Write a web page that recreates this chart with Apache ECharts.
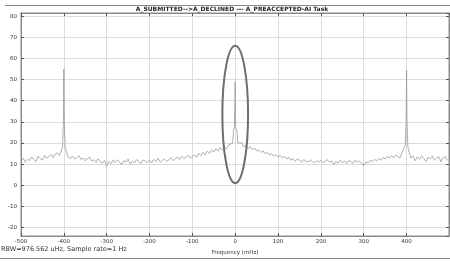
<!DOCTYPE html>
<html>
<head>
<meta charset="utf-8">
<script src="https://cdn.jsdelivr.net/npm/echarts@6/dist/echarts.min.js"></script>
<style>
  html, body { margin: 0; padding: 0; background: #fff; }
  #main { width: 450px; height: 261px; }
</style>
</head>
<body>
<div id="main"></div>
<script>
// spectrum (dBm), one value every 5 mHz from -500
const freqStart = -500;
const freqStep = 5;
const noiseLevels = [
  11.5, 12.8, 10.9, 12.3, 11.7, 13.4, 12.1, 11.2, 13.8, 12.6, 11.9, 14.2, 12.8, 13.5, 14.6, 13.1, 14.9, 15.3, 14.1, 16.8,
  24.0, 14.8, 13.2, 12.6, 13.9, 12.4, 13.1, 14.0, 12.2, 12.9, 11.6, 12.7, 13.3, 11.4, 12.1, 10.8, 12.5, 11.2, 10.4, 11.8,
  8.9, 11.3, 10.2, 11.9, 10.7, 12.1, 11.0, 9.6, 11.7, 10.9, 12.4, 9.8, 11.5, 10.6, 12.2, 11.1, 10.3, 12.0, 11.4, 10.8,
  11.9, 10.5, 12.3, 11.2, 12.8, 10.9, 11.7, 12.5, 11.3, 12.0, 13.1, 11.6, 12.4, 13.4, 12.1, 13.8, 12.7, 13.3, 14.2, 12.9,
  13.6, 14.5, 13.2, 15.1, 14.0, 15.6, 14.4, 16.2, 15.0, 16.8, 15.7, 17.3, 16.1, 17.9, 16.6, 18.4, 17.2, 19.1, 18.0, 19.6,
  20.5, 19.3, 18.6, 20.1, 18.2, 19.0, 17.4, 18.3, 16.9, 17.6, 16.2, 16.8, 15.5, 16.3, 14.9, 15.6, 14.3, 14.9, 13.8, 14.5,
  13.4, 14.1, 12.9, 13.6, 12.4, 13.2, 11.8, 12.7, 11.3, 12.5, 11.9, 10.8, 12.2, 11.4, 10.9, 12.0, 11.2, 10.6, 11.7, 11.0,
  11.8, 10.7, 11.4, 12.1, 10.9, 11.6, 9.8, 11.3, 10.5, 11.9, 10.8, 11.5, 10.2, 11.7, 11.1, 10.4, 11.9, 10.9, 11.4, 10.6,
  9.2, 11.0, 10.6, 11.8, 11.2, 12.3, 11.5, 12.6, 11.9, 13.1, 12.4, 13.6, 12.8, 14.1, 13.0, 14.3, 13.5, 12.9, 15.8, 19.5,
  24.0, 14.6, 12.8, 13.9, 11.6, 13.4, 12.2, 14.0, 12.7, 11.3, 13.2, 12.5, 13.8, 11.9, 12.8, 13.6, 11.2, 12.9, 13.7, 11.8
];
// narrow tones on top of the floor: [freq mHz, dBm]
const tones = [
  [-403, 18], [-401, 30], [-400, 55], [-399, 30], [-397, 18],
  [-6, 20], [-4, 26], [-2, 27.5], [-1, 27], [0, 49], [1, 27], [2, 27.5], [4, 26], [6, 20],
  [397, 19], [399, 30], [400, 54.5], [401, 30], [403, 18]
];
// marked region (ellipse): centre and half sizes in data units
const markCenter = [0, 33.5];
const markHalf = [30, 32.5];

let spectrum = noiseLevels.map((v, i) => [freqStart + i * freqStep, v]);
spectrum = spectrum.filter(p => !tones.some(t => Math.abs(t[0] - p[0]) <= 6));
spectrum = spectrum.concat(tones).sort((a, b) => a[0] - b[0]);

const chart = echarts.init(document.getElementById('main'));

const font = 'DejaVu Sans';
const axisCommon = {
  type: 'value',
  axisLine: { show: true, onZero: false, lineStyle: { color: '#8a8a8a', width: 1 } },
  axisTick: { show: true, inside: true, length: 3, lineStyle: { color: '#555' } },
  axisLabel: { fontSize: 5.5, color: '#333', fontFamily: font }
};

const frame = [
  { type: 'line', shape: { x1: 5, y1: 5.5, x2: 450, y2: 5.5 }, style: { stroke: '#8a8a8a', lineWidth: 1 } },
  { type: 'line', shape: { x1: 0, y1: 258.5, x2: 450, y2: 258.5 }, style: { stroke: '#8a8a8a', lineWidth: 1 } },
  {
    type: 'text', left: 1, top: 246,
    style: { text: 'RBW=976.562 uHz, Sample rate=1 Hz', fontSize: 6.5, fill: '#333', fontFamily: font }
  }
];

chart.setOption({
  animation: false,
  backgroundColor: '#fff',
  title: {
    text: 'A_SUBMITTED-->A_DECLINED --- A_PREACCEPTED-AI Task',
    left: 232, top: 6, textAlign: 'center', padding: 0,
    textStyle: { fontSize: 6, fontWeight: 'bold', color: '#222', fontFamily: font }
  },
  grid: {
    left: 21, right: 1, top: 13, bottom: 25, show: true,
    borderColor: '#8a8a8a', borderWidth: 1, outerBoundsMode: 'none', containLabel: false
  },
  xAxis: [Object.assign({}, axisCommon, {
    min: -500, max: 499, interval: 100, position: 'bottom',
    axisLabel: Object.assign({}, axisCommon.axisLabel, { margin: 3, showMaxLabel: false }),
    splitLine: { show: true, lineStyle: { color: '#dcdcdc', width: 1 } },
    name: 'Frequency (mHz)', nameLocation: 'middle', nameGap: 9,
    nameTextStyle: { fontSize: 5.5, color: '#333', fontFamily: font }
  }), Object.assign({}, axisCommon, {
    min: -500, max: 499, interval: 100, position: 'top',
    axisLabel: { show: false }, splitLine: { show: false }
  })],
  yAxis: [Object.assign({}, axisCommon, {
    min: -24, max: 81.5, minInterval: 10, maxInterval: 10, position: 'left',
    axisLabel: Object.assign({}, axisCommon.axisLabel, { margin: 4, showMinLabel: false, showMaxLabel: false }),
    splitLine: { show: true, lineStyle: { color: '#dcdcdc', width: 1 } },
    name: 'dBm', nameLocation: 'middle', nameGap: 11, nameRotate: 90,
    nameTextStyle: { fontSize: 5.5, color: '#333', fontFamily: font }
  }), Object.assign({}, axisCommon, {
    min: -24, max: 81.5, minInterval: 10, maxInterval: 10, position: 'right',
    axisLabel: { show: false }, splitLine: { show: false }
  })],
  series: [{
    type: 'line',
    data: spectrum,
    showSymbol: false,
    lineStyle: { color: '#9a9a9a', width: 0.8 },
    z: 3
  }],
  graphic: frame
});

// place the ellipse with the chart's own scales
const c = chart.convertToPixel({ gridIndex: 0 }, markCenter);
const e = chart.convertToPixel({ gridIndex: 0 }, [markCenter[0] + markHalf[0], markCenter[1] + markHalf[1]]);
chart.setOption({
  graphic: frame.concat([{
    type: 'ellipse', z: 10,
    shape: { cx: c[0], cy: c[1], rx: Math.abs(e[0] - c[0]), ry: Math.abs(c[1] - e[1]) },
    style: { fill: null, stroke: '#6e6e6e', lineWidth: 2 }
  }])
});
</script>
</body>
</html>
